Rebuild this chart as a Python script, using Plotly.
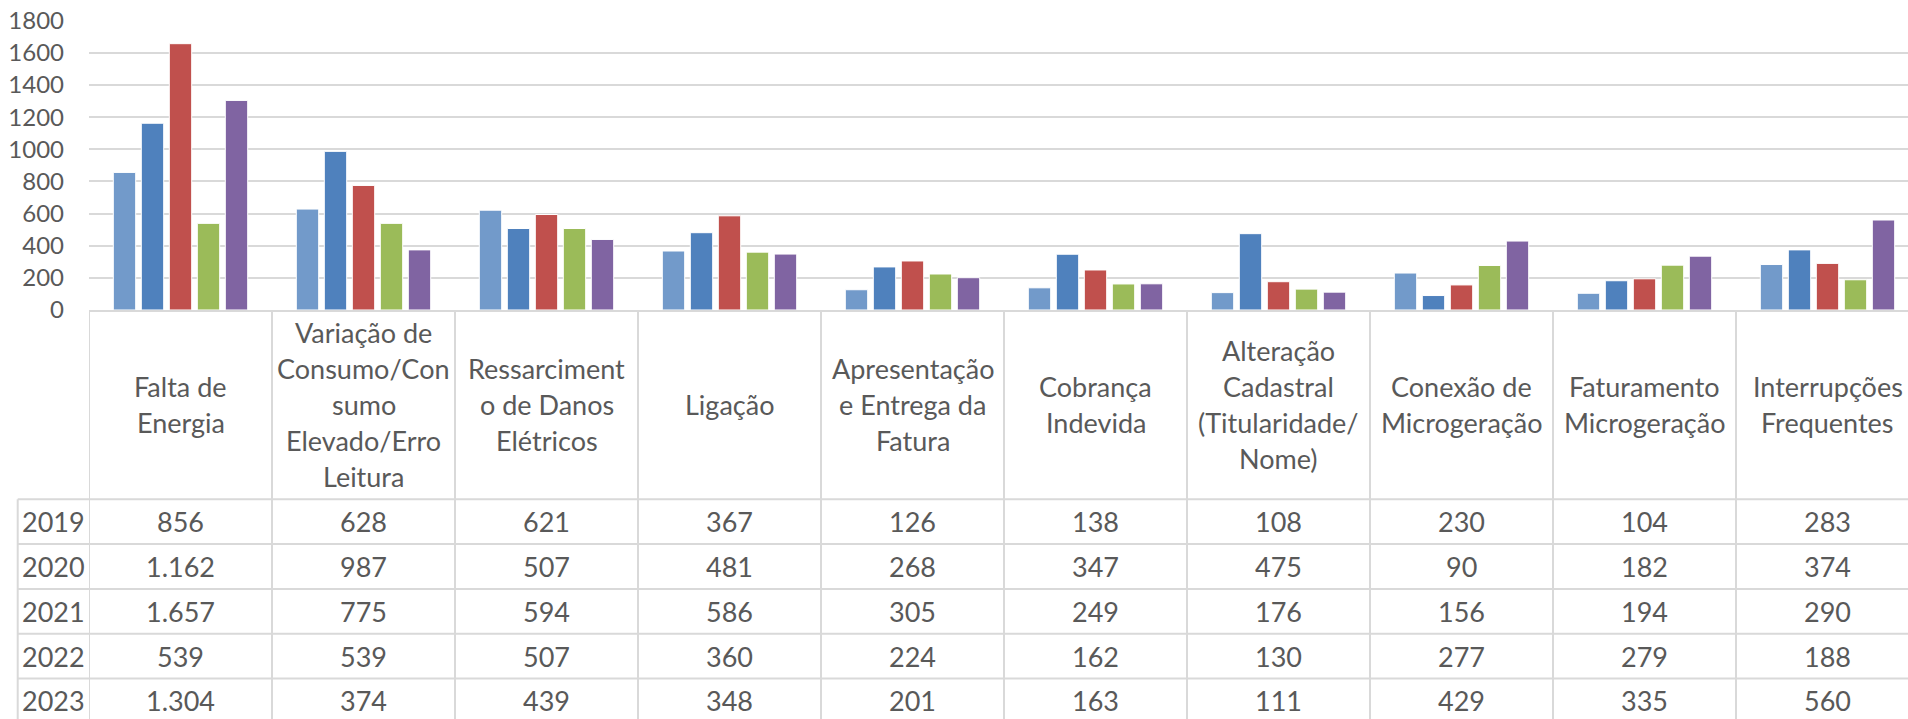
import plotly.graph_objects as go

YEARS = ["2019", "2020", "2021", "2022", "2023"]
CATEGORIES = [
    "Falta de Energia",
    "Variação de Consumo/Consumo Elevado/Erro Leitura",
    "Ressarcimento de Danos Elétricos",
    "Ligação",
    "Apresentação e Entrega da Fatura",
    "Cobrança Indevida",
    "Alteração Cadastral (Titularidade/Nome)",
    "Conexão de Microgeração",
    "Faturamento Microgeração",
    "Interrupções Frequentes",
]
# header text as Excel wraps it inside the data table
HEADER_LABELS = [
    "Falta de<br>Energia",
    "Variação de<br>Consumo/Con<br>sumo<br>Elevado/Erro<br>Leitura",
    "Ressarciment<br>o de Danos<br>Elétricos",
    "Ligação",
    "Apresentação<br>e Entrega da<br>Fatura",
    "Cobrança<br>Indevida",
    "Alteração<br>Cadastral<br>(Titularidade/<br>Nome)",
    "Conexão de<br>Microgeração",
    "Faturamento<br>Microgeração",
    "Interrupções<br>Frequentes",
]
V2019 = [856, 628, 621, 367, 126, 138, 108, 230, 104, 283]
V2020 = [1162, 987, 507, 481, 268, 347, 475, 90, 182, 374]
V2021 = [1657, 775, 594, 586, 305, 249, 176, 156, 194, 290]
V2022 = [539, 539, 507, 360, 224, 162, 130, 277, 279, 188]
V2023 = [1304, 374, 439, 348, 201, 163, 111, 429, 335, 560]
SERIES = [V2019, V2020, V2021, V2022, V2023]

COLOURS = ["#729ACA", "#4F81BD", "#C0504D", "#9BBB59", "#8064A2"]
TEXT = "#595959"
LINE = "#D9D9D9"
FONT = "Lato"
TABLE_SIZE = 27

W, H = 1908, 719


def py(px):
    """pixel row -> paper y"""
    return 1 - px / H


def fmt(v):
    return f"{v:,}".replace(",", ".")


fig = go.Figure()
for year, vals, colour in zip(YEARS, SERIES, COLOURS):
    fig.add_trace(
        go.Bar(
            x=CATEGORIES,
            y=vals,
            name=year,
            marker=dict(color=colour, line=dict(color="white", width=1)),
            showlegend=False,
        )
    )

# data table under the chart
axis_bottom = 310
header_bottom = 499.3
row_h = 44.8
year_left = 17.7
line_h = 36

annotations = []
header_mid = (axis_bottom + header_bottom) / 2
for cat, label in zip(CATEGORIES, HEADER_LABELS):
    lines = label.split("<br>")
    n = len(lines)
    for i, part in enumerate(lines):
        annotations.append(dict(
            x=cat, xref="x", y=py(header_mid + (i - (n - 1) / 2) * line_h), yref="paper",
            text=part, showarrow=False, yanchor="middle", xanchor="center",
            font=dict(family=FONT, size=TABLE_SIZE, color=TEXT),
        ))

shapes = []
for r, (year, vals) in enumerate(zip(YEARS, SERIES)):
    top = header_bottom + r * row_h
    mid = top + row_h / 2
    annotations.append(dict(
        x=(year_left + 89) / 2 / W, xref="paper", y=py(mid), yref="paper",
        text=year, showarrow=False, yanchor="middle", xanchor="center",
        font=dict(family=FONT, size=TABLE_SIZE, color=TEXT),
    ))
    for cat, v in zip(CATEGORIES, vals):
        annotations.append(dict(
            x=cat, xref="x", y=py(mid), yref="paper",
            text=fmt(v), showarrow=False, yanchor="middle", xanchor="center",
            font=dict(family=FONT, size=TABLE_SIZE, color=TEXT),
        ))
    shapes.append(dict(
        type="line", xref="paper", yref="paper",
        x0=year_left / W, x1=1, y0=py(top), y1=py(top),
        line=dict(color=LINE, width=2),
    ))

for i in range(len(CATEGORIES) + 1):
    shapes.append(dict(
        type="line", xref="x", yref="paper",
        x0=i - 0.5, x1=i - 0.5, y0=py(axis_bottom), y1=-0.02,
        line=dict(color=LINE, width=2),
    ))
shapes.append(dict(
    type="line", xref="paper", yref="paper",
    x0=year_left / W, x1=year_left / W, y0=py(header_bottom), y1=-0.02,
    line=dict(color=LINE, width=2),
))

fig.update_layout(
    width=W,
    height=H,
    margin=dict(l=0, r=0, t=0, b=0, autoexpand=False),
    paper_bgcolor="white",
    plot_bgcolor="white",
    barmode="group",
    bargap=0.235,
    bargroupgap=0.2,
    font=dict(family=FONT, color=TEXT),
    xaxis=dict(
        domain=[89 / W, 1],
        range=[-0.5, 9.5 - 11 / 183],
        showticklabels=False,
        ticks="",
        showgrid=False,
        showline=True,
        linecolor=LINE,
        linewidth=2,
        automargin=False,
        fixedrange=True,
    ),
    yaxis=dict(
        domain=[py(axis_bottom), py(20.7)],
        range=[0, 1800],
        dtick=200,
        showgrid=True,
        gridcolor=LINE,
        gridwidth=1.5,
        zeroline=False,
        showline=False,
        ticks="",
        ticklabelstandoff=24,
        tickfont=dict(family=FONT, size=24, color=TEXT),
        automargin=False,
        fixedrange=True,
    ),
    annotations=annotations,
    shapes=shapes,
)

fig.write_html(
    "out.html",
    config={"displayModeBar": False},
    post_script="document.body.style.margin='0';document.body.style.overflow='hidden';",
)
